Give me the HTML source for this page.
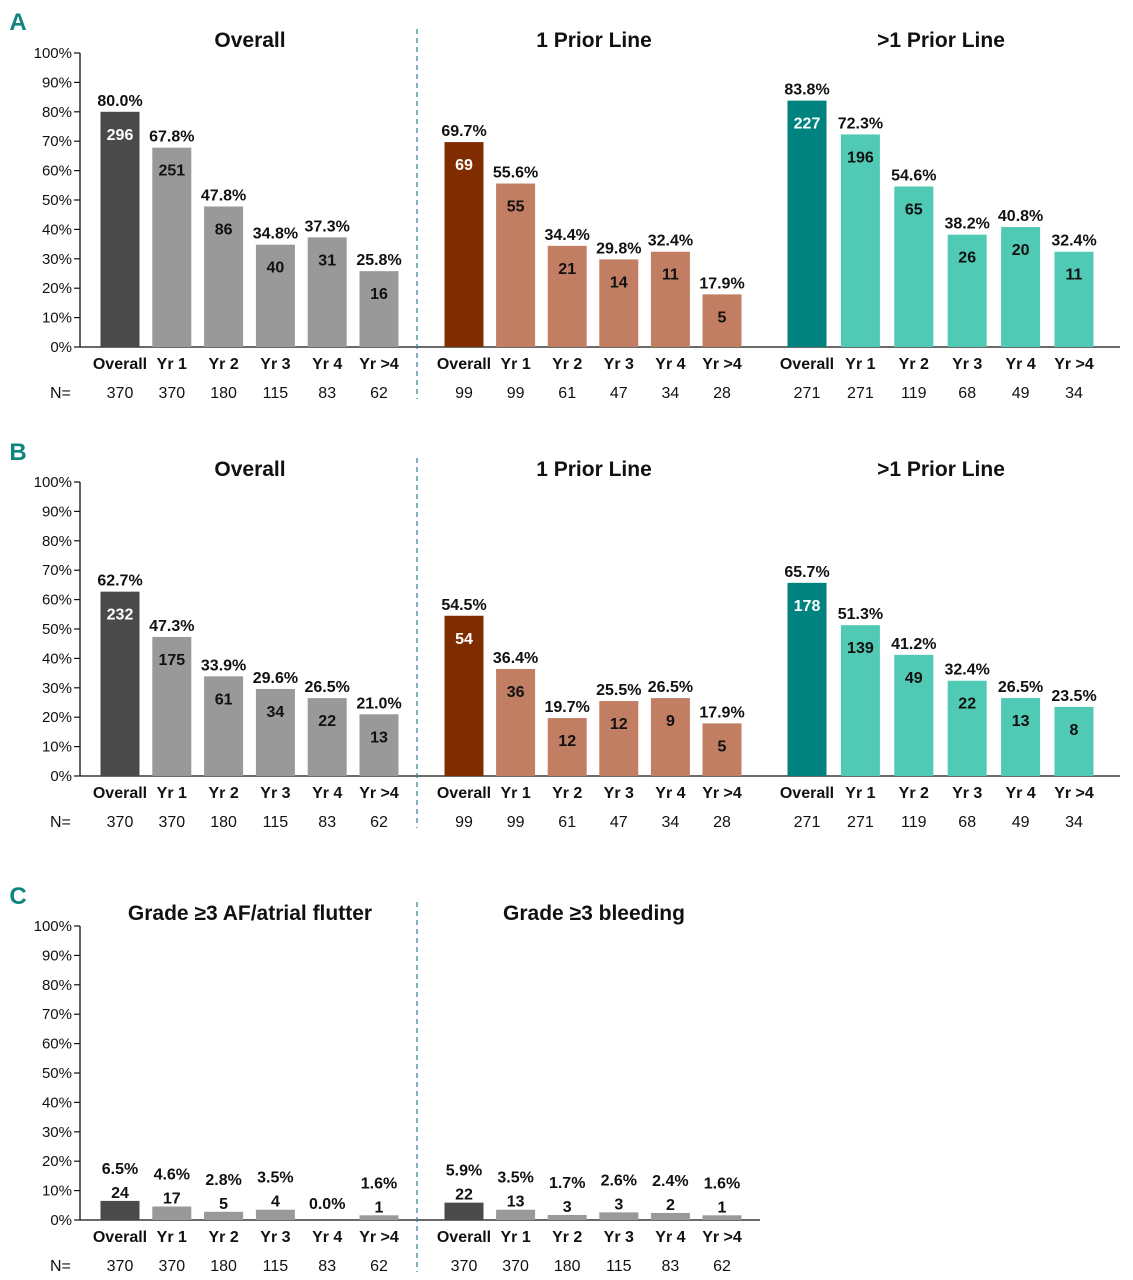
<!DOCTYPE html>
<html><head><meta charset="utf-8"><style>
body{margin:0;background:#fff;}
svg{display:block;font-family:"Liberation Sans",Arial,sans-serif;}
.t{font-weight:bold;font-size:21px;}
.tick{font-size:15px;fill:#111;}
.cat{font-weight:bold;font-size:16px;}
.n{font-size:16px;}
.pct{font-weight:bold;font-size:16px;}
.cnt{font-weight:bold;font-size:16px;}
.let{font-weight:bold;font-size:24px;fill:#0e857f;}
</style></head><body>
<svg id="chart" width="1133" height="1280" viewBox="0 0 1133 1280"></svg>
<script>
const categories = ["Overall","Yr 1","Yr 2","Yr 3","Yr 4","Yr >4"];
const groupTitlesAB = ["Overall","1 Prior Line",">1 Prior Line"];
const groupTitlesC = ["Grade \u22653 AF/atrial flutter","Grade \u22653 bleeding"];
const nOverall = [370,370,180,115,83,62];
const nOne = [99,99,61,47,34,28];
const nMulti = [271,271,119,68,49,34];
const aPctOverall = [80.0,67.8,47.8,34.8,37.3,25.8];
const aCntOverall = [296,251,86,40,31,16];
const aPctOne = [69.7,55.6,34.4,29.8,32.4,17.9];
const aCntOne = [69,55,21,14,11,5];
const aPctMulti = [83.8,72.3,54.6,38.2,40.8,32.4];
const aCntMulti = [227,196,65,26,20,11];
const bPctOverall = [62.7,47.3,33.9,29.6,26.5,21.0];
const bCntOverall = [232,175,61,34,22,13];
const bPctOne = [54.5,36.4,19.7,25.5,26.5,17.9];
const bCntOne = [54,36,12,12,9,5];
const bPctMulti = [65.7,51.3,41.2,32.4,26.5,23.5];
const bCntMulti = [178,139,49,22,13,8];
const cPctAF = [6.5,4.6,2.8,3.5,0.0,1.6];
const cCntAF = [24,17,5,4,0,1];
const cPctBleed = [5.9,3.5,1.7,2.6,2.4,1.6];
const cCntBleed = [22,13,3,3,2,1];
const yTicks = [0,10,20,30,40,50,60,70,80,90,100];

const svg = document.getElementById('chart');
const NS = 'http://www.w3.org/2000/svg';
function mk(tag, attrs, parent){const e=document.createElementNS(NS,tag);for(const k in attrs)e.setAttribute(k,attrs[k]);(parent||svg).appendChild(e);return e;}
function txt(x,y,s,cls,parent,fill,anchor){const e=mk('text',{x:x,y:y,class:cls,'text-anchor':anchor||'middle',fill:fill||'#111'},parent);e.textContent=s;return e;}

const groupCenters = [120,464,807];
const groupSpacing = [51.8,51.6,53.4];
const colorsDark = ['#4a4a4a','#7f2d00','#00837f'];
const colorsLight = ['#999999','#c17e62','#50cab4'];

function panel(opts){
  const g = mk('g',{});
  
  
  const y0 = opts.y0, ppu = 2.94;
  const yS = v => y0 - v*ppu;
  const lt = txt(18, opts.letterY, opts.letter, 'let', g, '#0e857f');
   
  mk('line',{x1:80,y1:yS(100),x2:80,y2:y0,stroke:'#111','stroke-width':1.3},g);
  yTicks.forEach(t=>{
    mk('line',{x1:74,y1:yS(t),x2:80,y2:yS(t),stroke:'#111','stroke-width':1.2},g);
    const e=txt(72,yS(t)+5,t+'%','tick',g,'#111','end');
     
  });
  const axis = mk('line',{x1:80,y1:y0,x2:opts.axisEnd,y2:y0,stroke:'#111','stroke-width':1.3},g);
   
  const div = mk('line',{x1:417,y1:y0-318,x2:417,y2:y0+52,stroke:'#2a7f95','stroke-width':1.2,'stroke-dasharray':'5,4'},g);
   
  const nl = txt(50,y0+51,'N=','n',g,'#111','start');
   
  opts.groups.forEach((gr,gi)=>{
    const tt = txt(groupCenters[gi]+(gi==2?134:130), y0-300, gr.title, 't', g);
     
    const cd = opts.small ? colorsDark[0] : colorsDark[gi];
    const cl2 = opts.small ? colorsLight[0] : colorsLight[gi];
    categories.forEach((c,i)=>{
      const cx = groupCenters[gi] + i*groupSpacing[gi];
      const v = gr.pct[i];
      const top = yS(v);
      const r = mk('rect',{x:cx-19.5,y:top,width:39,height:y0-top,fill:i==0?cd:cl2},g);
       
      let py, cy;
      if(opts.small){
        if(v===0){py=y0-11;cy=null;} else {py=top-27;cy=top-3;}
      } else {py=top-6;cy=top+28;}
      const p = txt(cx,py,v.toFixed(1)+'%','pct',g);
       
      if(cy!==null){
        const k = txt(cx,cy,String(gr.cnt[i]),'cnt',g,(!opts.small&&i==0)?'#fff':'#111');
         
      }
      const cl = txt(cx,y0+22,c,'cat',g);
       
      const nn = txt(cx,y0+51,String(gr.n[i]),'n',g);
       
    });
  });
}
panel({name:'panel-a',letter:'A',letterY:30,y0:347,axisEnd:1120,small:false,groups:[
  {title:groupTitlesAB[0],pct:aPctOverall,cnt:aCntOverall,n:nOverall},
  {title:groupTitlesAB[1],pct:aPctOne,cnt:aCntOne,n:nOne},
  {title:groupTitlesAB[2],pct:aPctMulti,cnt:aCntMulti,n:nMulti}]});
panel({name:'panel-b',letter:'B',letterY:460,y0:776,axisEnd:1120,small:false,groups:[
  {title:groupTitlesAB[0],pct:bPctOverall,cnt:bCntOverall,n:nOverall},
  {title:groupTitlesAB[1],pct:bPctOne,cnt:bCntOne,n:nOne},
  {title:groupTitlesAB[2],pct:bPctMulti,cnt:bCntMulti,n:nMulti}]});
panel({name:'panel-c',letter:'C',letterY:904,y0:1220,axisEnd:760,small:true,groups:[
  {title:groupTitlesC[0],pct:cPctAF,cnt:cCntAF,n:nOverall},
  {title:groupTitlesC[1],pct:cPctBleed,cnt:cCntBleed,n:nOverall}]});
</script>
</body></html>
